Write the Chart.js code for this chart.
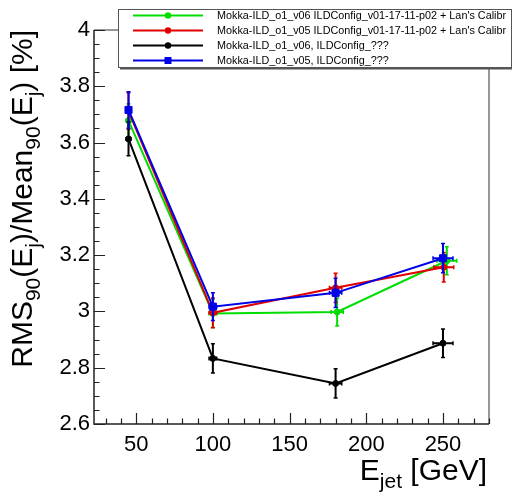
<!DOCTYPE html>
<html><head><meta charset="utf-8">
<script src="https://cdn.jsdelivr.net/npm/chart.js@4/dist/chart.umd.min.js"></script>
<style>html,body{margin:0;padding:0;background:#fff}#wrap{width:512px;height:495px;position:relative}</style>
</head><body><div id="wrap"><canvas id="c" width="512" height="495"></canvas></div>
<script>
// ---- data ----
const seriesLabels = [
  "Mokka-ILD_o1_v06 ILDConfig_v01-17-11-p02 + Lan's Calibr",
  "Mokka-ILD_o1_v05 ILDConfig_v01-17-11-p02 + Lan's Calibr",
  "Mokka-ILD_o1_v06, ILDConfig_???",
  "Mokka-ILD_o1_v05, ILDConfig_???"
];
const greenX = [45, 100, 181, 252.5];
const greenY = [3.678, 2.993, 2.998, 3.180];
const greenYErr = [0.060, 0.050, 0.050, 0.050];
const greenXErr = [1.5, 2.5, 4, 6.5];

const redX = [45, 100, 180, 250.5];
const redY = [3.712, 2.995, 3.084, 3.157];
const redYErr = [0.065, 0.053, 0.052, 0.052];
const redXErr = [1.5, 2.5, 4, 6.5];

const blackX = [45, 100, 180, 250];
const blackY = [3.613, 2.833, 2.744, 2.887];
const blackYErr = [0.060, 0.052, 0.052, 0.051];
const blackXErr = [1.5, 2.5, 4, 6.5];

const blueX = [45, 100, 180, 250];
const blueY = [3.716, 3.017, 3.066, 3.189];
const blueYErr = [0.065, 0.049, 0.052, 0.052];
const blueXErr = [1.5, 2.5, 4, 6.5];

const xTickLabels = [50, 100, 150, 200, 250];
const yTickLabels = [2.6, 2.8, 3.0, 3.2, 3.4, 3.6, 3.8, 4.0];

const FONT = "'Liberation Sans', Arial, Helvetica, sans-serif";

function pts(xs, ys) { return xs.map((x, i) => ({x: x, y: ys[i]})); }

const seriesDefs = [
  {label: seriesLabels[0], xs: greenX, ys: greenY, ye: greenYErr, xe: greenXErr, color: '#00dd00', style: 'circle', r: 3, order: 4},
  {label: seriesLabels[1], xs: redX, ys: redY, ye: redYErr, xe: redXErr, color: '#e00000', style: 'circle', r: 3, order: 3},
  {label: seriesLabels[2], xs: blackX, ys: blackY, ye: blackYErr, xe: blackXErr, color: '#000000', style: 'circle', r: 3, order: 2},
  {label: seriesLabels[3], xs: blueX, ys: blueY, ye: blueYErr, xe: blueXErr, color: '#0000e6', style: 'rect', r: 5, order: 1}
];

const datasets = seriesDefs.map(s => ({
  label: s.label,
  data: pts(s.xs, s.ys),
  showLine: true,
  borderColor: s.color,
  backgroundColor: s.color,
  borderWidth: 2,
  tension: 0,
  pointStyle: s.style,
  pointRadius: s.r,
  pointBorderWidth: 1,
  pointBackgroundColor: s.color,
  pointBorderColor: s.color,
  order: s.order,
  _xe: s.xe, _ye: s.ye
}));

// error bars per dataset (drawn via scales)
const errorBars = {
  id: 'errorBars',
  afterDatasetDraw(chart, args) {
    const ds = chart.data.datasets[args.index];
    const xs = chart.scales.x, ys = chart.scales.y, ctx = chart.ctx;
    ctx.save();
    ctx.strokeStyle = ds.borderColor; ctx.lineWidth = 2;
    ds.data.forEach((p, i) => {
      const px = xs.getPixelForValue(p.x), py = ys.getPixelForValue(p.y);
      const y1 = ys.getPixelForValue(p.y + ds._ye[i]), y2 = ys.getPixelForValue(p.y - ds._ye[i]);
      const x1 = xs.getPixelForValue(p.x - ds._xe[i]), x2 = xs.getPixelForValue(p.x + ds._xe[i]);
      ctx.beginPath();
      ctx.moveTo(px, y1); ctx.lineTo(px, y2);
      ctx.moveTo(x1, py); ctx.lineTo(x2, py);
      ctx.stroke();
      ctx.lineWidth = 1.5;
      ctx.beginPath();
      ctx.moveTo(px - 2, y1); ctx.lineTo(px + 2, y1);
      ctx.moveTo(px - 2, y2); ctx.lineTo(px + 2, y2);
      ctx.moveTo(x1, py - 2); ctx.lineTo(x1, py + 2);
      ctx.moveTo(x2, py - 2); ctx.lineTo(x2, py + 2);
      ctx.stroke();
      ctx.lineWidth = 2;
    });
    ctx.restore();
  }
};

// frame + inward ticks
const frame = {
  id: 'frame',
  beforeDatasetsDraw(chart) {
    const {ctx, chartArea: a, scales: {x, y}} = chart;
    ctx.save();
    ctx.strokeStyle = '#777'; ctx.lineWidth = 1.5;
    ctx.beginPath();
    ctx.moveTo(a.left, a.top); ctx.lineTo(a.right, a.top); ctx.lineTo(a.right, a.bottom);
    ctx.stroke();
    ctx.strokeStyle = '#222'; ctx.lineWidth = 1.5;
    ctx.beginPath();
    ctx.moveTo(a.left, a.top); ctx.lineTo(a.left, a.bottom); ctx.lineTo(a.right, a.bottom);
    ctx.stroke();
    ctx.lineWidth = 1.2;
    ctx.beginPath();
    for (let v = 30; v <= x.max + 0.001; v += 10) {
      const px = Math.round(x.getPixelForValue(v)) + 0.5;
      const len = (v % 50 === 0) ? 11 : 5.5;
      ctx.moveTo(px, a.bottom); ctx.lineTo(px, a.bottom - len);
    }
    for (let k = 0; k <= 28; k++) {
      const v = 2.6 + k * 0.05;
      const py = Math.round(y.getPixelForValue(v)) + 0.5;
      const len = (k % 4 === 0) ? 11 : 5.5;
      ctx.moveTo(a.left, py); ctx.lineTo(a.left + len, py);
    }
    ctx.stroke();
    ctx.restore();
  }
};

function measureRich(ctx, segs, size, subSize) {
  let w = 0;
  segs.forEach(s => { ctx.font = (s.sub ? subSize : size) + 'px ' + FONT; w += ctx.measureText(s.t).width; });
  return w;
}
function paintRich(ctx, segs, x0, size, subSize, subDrop) {
  let x = x0;
  segs.forEach(s => {
    ctx.font = (s.sub ? subSize : size) + 'px ' + FONT;
    ctx.fillText(s.t, x, s.sub ? subDrop : 0);
    x += ctx.measureText(s.t).width;
  });
}

const titles = {
  id: 'titles',
  afterDraw(chart) {
    const ctx = chart.ctx;
    ctx.save();
    ctx.fillStyle = '#000'; ctx.textBaseline = 'alphabetic'; ctx.textAlign = 'left';
    // Y title
    const ySegs = [{t:'RMS'},{t:'90',sub:true},{t:'(E'},{t:'j',sub:true},{t:')/Mean'},{t:'90',sub:true},{t:'(E'},{t:'j',sub:true},{t:') [%]'}];
    const yw = measureRich(ctx, ySegs, 30, 21);
    ctx.save();
    ctx.translate(32, 30);
    ctx.rotate(-Math.PI / 2);
    paintRich(ctx, ySegs, -yw, 30, 21, 8);
    ctx.restore();
    // X title
    const xSegs = [{t:'E'},{t:'jet',sub:true},{t:' [GeV]'}];
    const xw = measureRich(ctx, xSegs, 30, 21);
    ctx.save();
    ctx.translate(487, 480);
    paintRich(ctx, xSegs, -xw, 30, 21, 8);
    ctx.restore();

    // Legend box
    const L = 118, T = 9, R = 511, B = 67;
    ctx.fillStyle = '#fff';
    ctx.fillRect(L, T, R - L, B - T);
    ctx.strokeStyle = '#555'; ctx.lineWidth = 1;
    ctx.strokeRect(L + 0.5, T + 0.5, R - L, B - T);
    ctx.fillStyle = '#555';
    ctx.fillRect(L + 2, B, R - L, 2.5);
    // fit legend font so longest label spans ~290px
    ctx.font = '11px ' + FONT;
    const longest = Math.max(...seriesLabels.map(t => ctx.measureText(t).width));
    const fs = Math.min(11, 11 * 289 / longest);
    const rows = [15.5, 30.5, 45.5, 60.5];
    seriesDefs.forEach((s, i) => {
      const yy = rows[i];
      ctx.strokeStyle = s.color; ctx.lineWidth = 2;
      ctx.beginPath(); ctx.moveTo(133, yy); ctx.lineTo(203, yy); ctx.stroke();
      ctx.fillStyle = s.color;
      if (s.style === 'rect') { ctx.fillRect(164.5, yy - 3.5, 7, 7); }
      else { ctx.beginPath(); ctx.arc(168, yy, 3.2, 0, Math.PI * 2); ctx.fill(); }
      ctx.fillStyle = '#000';
      ctx.font = fs.toFixed(2) + 'px ' + FONT;
      ctx.textBaseline = 'middle';
      ctx.fillText(s.label, 217, yy + 0.5);
    });
    ctx.restore();
  }
};

new Chart(document.getElementById('c'), {
  type: 'scatter',
  data: {datasets: datasets},
  options: {
    responsive: false,
    devicePixelRatio: 1,
    animation: false,
    layout: {padding: {left: 0, right: 23, top: 30, bottom: 0}},
    plugins: {legend: {display: false}, tooltip: {enabled: false}},
    scales: {
      x: {
        type: 'linear', min: 22.5, max: 280,
        afterBuildTicks: s => { s.ticks = xTickLabels.map(v => ({value: v})); },
        afterFit: s => { s.height = 71; },
        grid: {display: false, drawTicks: false},
        border: {display: false},
        ticks: {color: '#000', font: {family: FONT, size: 22}, padding: 8, maxRotation: 0, autoSkip: false,
          callback: v => String(v)}
      },
      y: {
        type: 'linear', min: 2.6, max: 4.0,
        afterBuildTicks: s => { s.ticks = yTickLabels.map(v => ({value: v})); },
        afterFit: s => { s.width = 94; },
        grid: {display: false, drawTicks: false},
        border: {display: false},
        ticks: {color: '#000', font: {family: FONT, size: 22}, padding: 4, autoSkip: false,
          callback: v => String(Math.round(v * 10) / 10)}
      }
    }
  },
  plugins: [frame, errorBars, titles]
});
</script>
</body></html>
